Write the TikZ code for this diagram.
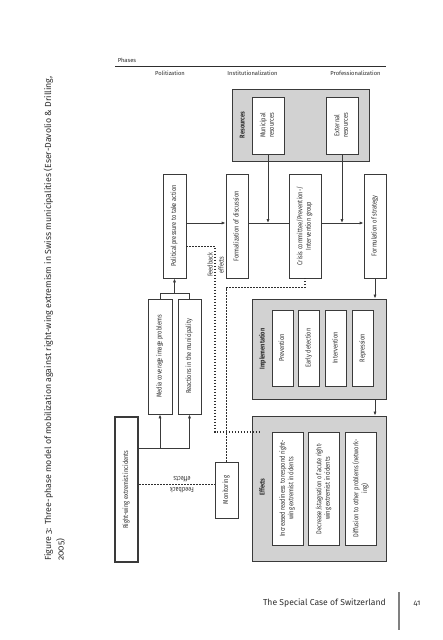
\documentclass[tikz,border=0pt]{standalone}
\usepackage{fontspec}
\setmainfont{Fira Sans}[Numbers=OldStyle]
\newfontfamily\condfont[FakeStretch=0.8]{Fira Sans}
\usepackage{graphicx}
\usetikzlibrary{arrows.meta}
\definecolor{linegray}{HTML}{3A3A3A}
\definecolor{panelgray}{HTML}{D2D2D2}
\definecolor{inkgray}{HTML}{2E2E2E}
\newcommand{\vlabel}[1]{\rotatebox{90}{\begin{tabular}{@{}c@{}}#1\end{tabular}}}
\tikzset{
  box/.style={draw=linegray, fill=white, line width=0.8pt, inner sep=0pt, text=inkgray,
    font=\condfont\fontsize{7.1}{8.4}\selectfont},
  panel/.style={draw=linegray, fill=panelgray, line width=0.9pt, inner sep=0pt},
  paneltitle/.style={text=inkgray, inner sep=0pt, font=\condfont\bfseries\fontsize{7}{8}\selectfont},
  link/.style={draw=linegray, line width=0.8pt},
  flow/.style={link, -{Latex[length=4pt,width=3.2pt]}},
  feedback/.style={draw=inkgray, line width=1.5pt, dash pattern=on 1.5pt off 1.5pt},
  fblabel/.style={text=inkgray, inner sep=0pt, align=center, font=\condfont\fontsize{7}{11}\selectfont},
  phase/.style={text=inkgray, inner sep=0pt, font=\fontsize{5.8}{7}\selectfont},
}
\begin{document}
\begin{tikzpicture}[x=1pt, y=-1pt]
  \fill[white] (0,0) rectangle (442,640);
  \useasboundingbox (0,0) rectangle (442,640);
  % caption
  \node[rotate=90, anchor=north west, align=left, inner sep=0pt, text=inkgray,
    font=\fontsize{8.8}{12.5}\selectfont] (caption) at (43.5,561)
    {Figure 3: Three-phase model of mobilization against right-wing extremism in Swiss municipalities (Eser-Davolio \& Drilling,\\2005)};
  % phases
  \node[phase] (phases) at (127,60) {Phases};
  \draw[line width=1.4pt, inkgray] (115,66.5) -- (386,66.5);
  \node[phase] (polit) at (170,73.5) {Politization};
  \node[phase] (instit) at (252.5,73.5) {Institutionalization};
  \node[phase] (profess) at (355.5,73.5) {Professionalization};
  % resources
  \node[panel, minimum width=137, minimum height=72] (resources) at (300.5,125) {};
  \node[paneltitle] (resTitle) at (243,125) {\vlabel{Resources}};
  \node[box, minimum width=32, minimum height=57] (munic) at (268,125.5) {\vlabel{Municipal\\resources}};
  \node[box, minimum width=32, minimum height=57] (extern) at (342,125.5) {\vlabel{External\\resources}};
  % main row
  \node[box, minimum width=23, minimum height=104] (pressure) at (174.5,226) {\vlabel{Political pressure to take action}};
  \node[box, minimum width=22, minimum height=104] (formal) at (237,226) {\vlabel{Formalization of discussion}};
  \node[box, minimum width=32, minimum height=104] (crisis) at (305,226) {\vlabel{Crisis committee/Prevention-/\\Intervention group}};
  \node[box, minimum width=22, minimum height=104] (strat) at (375,226) {\vlabel{Formulation of strategy}};
  \node[box, minimum width=24, minimum height=115] (media) at (160,356.5) {\vlabel{Media coverage image problems}};
  \node[box, minimum width=23, minimum height=115] (react) at (189.5,356.5) {\vlabel{Reactions in the municipality}};
  \node[box, line width=2.2pt, minimum width=23, minimum height=145] (incid) at (126.5,489.5) {\vlabel{Right-wing extremist incidents}};
  \node[box, minimum width=23, minimum height=56] (monit) at (226.5,490) {\vlabel{Monitoring}};
  % implementation
  \node[panel, minimum width=134, minimum height=100] (impl) at (319,349) {};
  \node[paneltitle] (implTitle) at (263,349) {\vlabel{Implementation}};
  \foreach \x/\name/\txt in {282.5/prev/Prevention, 309/early/Early detection, 336/interv/Intervention, 363/repr/Repression}
    \node[box, minimum width=21, minimum height=76] (\name) at (\x,348) {\vlabel{\txt}};
  % effects
  \node[panel, minimum width=134, minimum height=145] (effects) at (319,488.5) {};
  \node[paneltitle] (effTitle) at (263,487) {\vlabel{Effects}};
  \node[box, minimum width=31, minimum height=113] (readiness) at (287.5,488.5) {\vlabel{Increased readiness to respond right-\\wing extremist incidents}};
  \node[box, minimum width=31, minimum height=113] (decrease) at (324,488.5) {\vlabel{Decrease/stagnation of acute right-\\wing extremist incidents}};
  \node[box, minimum width=31, minimum height=113] (diffusion) at (361,488.5) {\vlabel{Diffusion to other problems (network-\\ing)}};
  % solid connectors
  \coordinate (flowY) at (0,223);
  \coordinate (split) at (189.5,448);
  \coordinate (join) at (174.5,293.5);
  \draw[link] (incid.east |- split) -- (split);
  \draw[flow] (media.south |- split) -- (media.south);
  \draw[flow] (split) -- (react.south);
  \draw[link] (media.north) -- (media.north |- join) -- (react.north |- join) -- (react.north);
  \draw[flow] (join) -- (pressure.south);
  \draw[flow] (pressure.east |- flowY) -- (formal.west |- flowY);
  \draw[link] (formal.east |- flowY) -- (crisis.west |- flowY);
  \draw[flow] (munic.south) -- (munic.south |- flowY);
  \draw[flow] (crisis.east |- flowY) -- (strat.west |- flowY);
  \draw[flow] (extern.south) -- (extern.south |- flowY);
  \draw[flow] (strat.south) -- (strat.south |- impl.north);
  \draw[flow] (impl.south -| strat.south) -- (effects.north -| strat.south);
  % feedback loops
  \coordinate (fbTop) at (215,246.5);
  \coordinate (fbBot) at (215,432);
  \coordinate (fbMid) at (227,287.5);
  \coordinate (fbLow) at (0,484.5);
  \draw[feedback] (pressure.east |- fbTop) -- (fbTop) -- (fbBot) -- ([xshift=8pt]effects.west |- fbBot);
  \draw[feedback] (monit.north) -- (monit.north |- fbMid) -- (crisis.south |- fbMid) -- (crisis.south);
  \draw[feedback] (incid.east |- fbLow) -- (monit.west |- fbLow);
  \node[fblabel, rotate=90] (fbLabelA) at (215.5,265) {Feedback\\effects};
  \node[fblabel, rotate=180] (fbLabelB) at (182,485) {Feedback\\effects};
  % running head
  \node[anchor=base east, inner sep=0pt, text=inkgray, font=\fontsize{8.6}{10}\selectfont] (runhead) at (386,605) {The Special Case of Switzerland};
  \draw[line width=1.6pt, gray] (399,592) -- (399,630);
  \node[anchor=base, inner sep=0pt, text=inkgray, font=\fontsize{7.8}{9}\selectfont] (pagenum) at (417,605) {41};
\end{tikzpicture}
\end{document}
